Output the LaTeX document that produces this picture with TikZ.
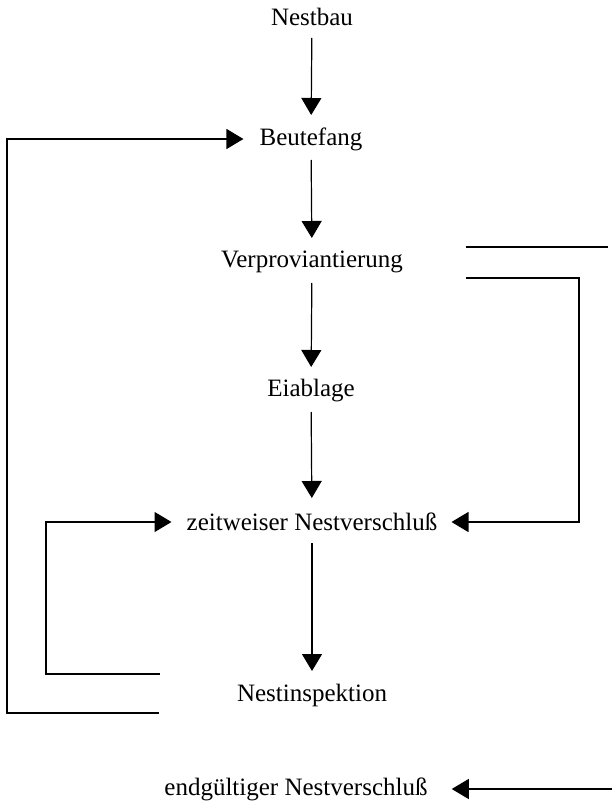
\documentclass[tikz,border=0pt]{standalone}
\usepackage{fontspec}
\setmainfont{Liberation Serif}
\usetikzlibrary{arrows.meta}
\begin{document}
\begin{tikzpicture}[x=1bp,y=-1bp,
  lbl/.style={font=\fontsize{25bp}{30bp}\selectfont, inner sep=0pt},
  ln/.style={line width=1.2bp},
  arr/.style={ln, -{Triangle[length=17bp,width=20bp]}},
  varr/.style={arr, shorten <=21bp, shorten >=24bp}]
\useasboundingbox (0,0) rectangle (612,804);
\node[lbl] (nb) at (312,17) {Nestbau};
\node[lbl] (bf) at (311,139) {Beutefang};
\node[lbl] (vp) at (312,262) {Verproviantierung};
\node[lbl] (ei) at (311,391) {Eiablage};
\node[lbl] (zw) at (312,522) {zeitweiser Nestverschluß};
\node[lbl] (ni) at (312,695) {Nestinspektion};
\node[lbl] (eg) at (296,789) {endgültiger Nestverschluß};
\draw[varr] (nb.center) -- (bf.center);
\draw[varr] (bf.center) -- (vp.center);
\draw[varr] (vp.center) -- (ei.center);
\draw[varr] (ei.center) -- (zw.center);
\draw[varr] (zw.center) -- (ni.center);
\coordinate (ol) at (159,713);
\coordinate (il) at (160,674);
\coordinate (rl) at (466,278);
\coordinate (ta) at (466,247);
\coordinate (tb) at (608,247);
\coordinate (be) at (612,789);
\draw[arr, shorten >=16bp] (ol) -- (7,713) |- (bf.west);
\draw[arr, shorten >=15bp] (il) -- (46,674) |- (zw.west);
\draw[arr, shorten >=14bp] (rl) -- (579,278) |- (zw.east);
\draw[ln] (ta) -- (tb);
\draw[arr, shorten >=24bp] (be) -- (eg.east);
\end{tikzpicture}
\end{document}
